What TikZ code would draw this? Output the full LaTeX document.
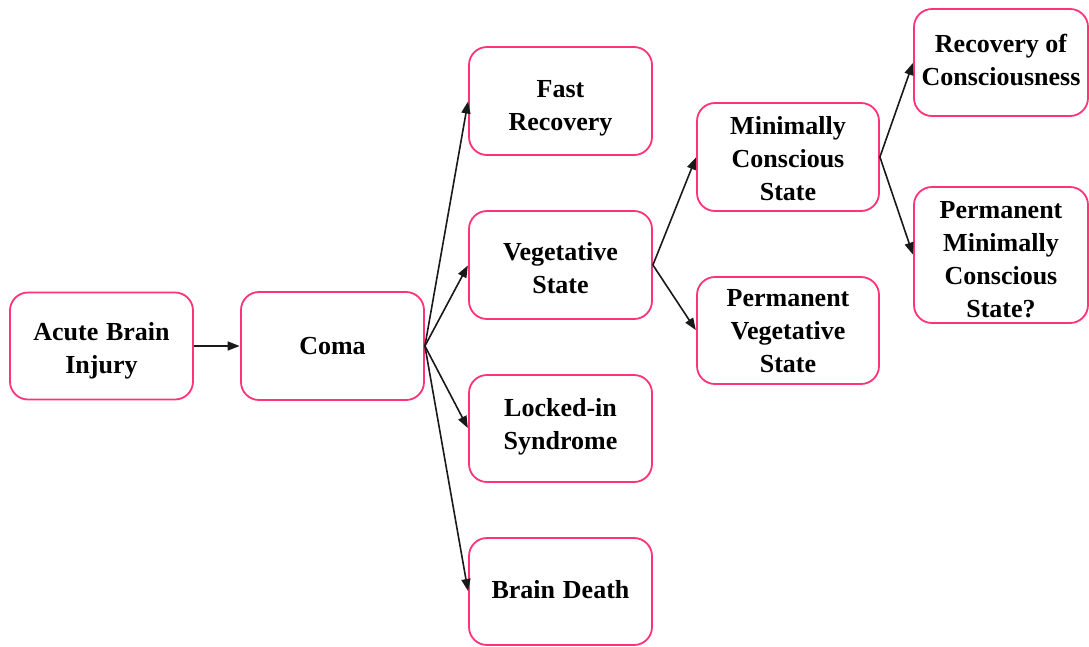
\documentclass[tikz,border=0pt]{standalone}
\usepackage{fontspec}
\setmainfont{Liberation Serif}
\usetikzlibrary{arrows.meta}
\definecolor{boxpink}{RGB}{255,51,119}
\newcommand{\btxt}[2]{\raisebox{-#1}[\height][\depth]{\begin{tabular}{@{}c@{}}#2\end{tabular}}}
\tikzset{
  box/.style={draw=boxpink, line width=1.8pt, rounded corners=18pt,
    font=\bfseries\fontsize{26}{33}\selectfont, inner sep=0pt, fill=white,
    minimum width=183pt, minimum height=108pt},
  arr/.style={draw=black!90, line width=1.6pt, -{Triangle[length=12pt,width=9pt]}, shorten >=0.5pt}
}
\begin{document}
\begin{tikzpicture}[x=1pt,y=-1pt]
\useasboundingbox (0,0) rectangle (1089,646);
\node[box, minimum height=107pt] (abi) at (101.5,346) {\btxt{4pt}{Acute\hspace{0.3em}Brain\\Injury}};
\node[box] (coma) at (332.5,346) {\btxt{2pt}{Coma}};
\node[box] (fast) at (560.5,101) {\btxt{6pt}{Fast\\Recovery}};
\node[box] (veg) at (560.5,265) {\btxt{5pt}{Vegetative\\State}};
\node[box, minimum height=107pt] (lock) at (560.5,428.5) {\btxt{-2pt}{Locked-in\\Syndrome}};
\node[box, minimum height=107pt] (bd) at (560.5,591.5) {\btxt{0pt}{Brain\hspace{0.3em}Death}};
\node[box, minimum width=182pt] (mcs) at (788,157) {\btxt{4pt}{Minimally\\Conscious\\State}};
\node[box, minimum width=182pt, minimum height=107pt] (pvs) at (788,330.5) {\btxt{2pt}{Permanent\\Vegetative\\State}};
\node[box, minimum width=174pt, minimum height=107pt] (roc) at (1001,62.5) {\btxt{0pt}{Recovery of\\Consciousness}};
\node[box, minimum width=174pt, minimum height=136pt] (pmcs) at (1001,255) {\btxt{6pt}{Permanent\\Minimally\\Conscious\\State?}};
\draw[arr] (abi.east) -- (coma.west);
\draw[arr] (coma.east) -- (fast.west);
\draw[arr] (coma.east) -- (veg.west);
\draw[arr] (coma.east) -- (lock.west);
\draw[arr] (coma.east) -- (bd.west);
\draw[arr] (veg.east) -- (mcs.west);
\draw[arr] (veg.east) -- (pvs.west);
\draw[arr] (mcs.east) -- (roc.west);
\draw[arr] (mcs.east) -- (pmcs.west);
\end{tikzpicture}
\end{document}
